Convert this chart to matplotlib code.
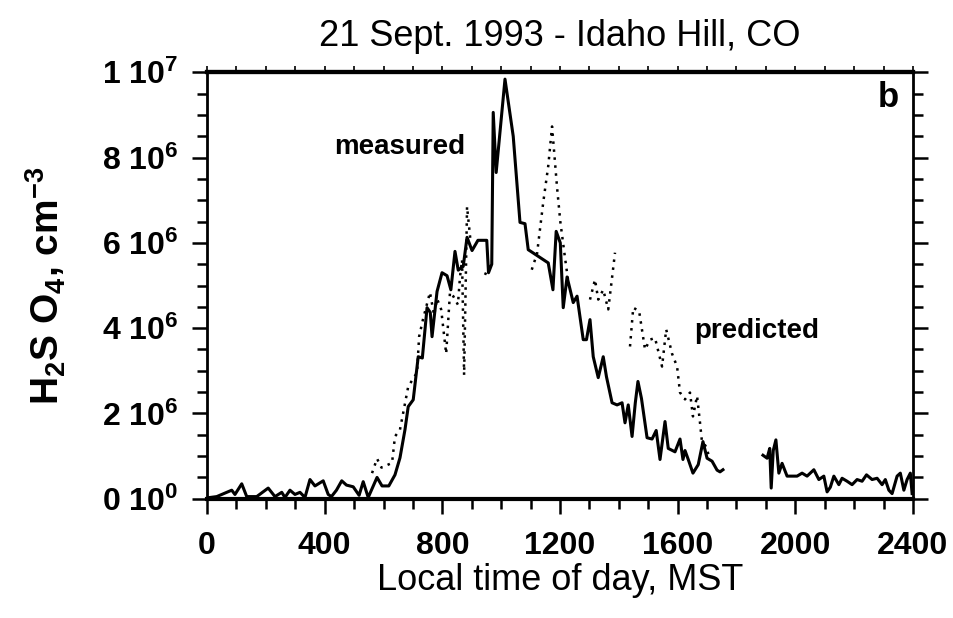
import numpy as np
import matplotlib
matplotlib.use('Agg')
import matplotlib.pyplot as plt
from matplotlib.ticker import MultipleLocator

plt.rcParams['font.family'] = ['Liberation Sans', 'DejaVu Sans']
plt.rcParams['mathtext.default'] = 'regular'

nan = np.nan

# measured H2SO4 (units of 1e6 cm^-3) vs local time (MST)
meas_t = [0, 33, 84, 95, 118, 135, 169, 208, 231, 254, 265, 282, 299, 316, 333,
          350, 367, 395, 412, 423, 440, 458, 474, 497, 517, 531, 548, 578, 595,
          618, 639, 656, 673, 684, 701, 718, 732, 748, 759, 765, 782, 799, 816,
          829, 843, 854, 871, 884, 901, 921, 951, 957, 968, 973, 983, 1013, 1041,
          1064, 1081, 1092, 1160, 1176, 1187, 1201, 1211, 1224, 1245, 1258, 1279,
          1290, 1302, 1313, 1330, 1347, 1358, 1377, 1394, 1411, 1421, 1432, 1445,
          1456, 1465, 1477, 1496, 1513, 1527, 1540, 1557, 1568, 1591, 1608, 1618,
          1625, 1636, 1652, 1670, 1686, 1700, 1717, 1734, 1744, 1754, 1820,
          1890, 1904, 1913, 1918, 1925, 1934, 1944, 1955, 1972, 2006, 2023, 2040,
          2063, 2080, 2097, 2108, 2119, 2131, 2148, 2159, 2176, 2193, 2210, 2227,
          2242, 2261, 2278, 2295, 2306, 2318, 2329, 2346, 2357, 2369, 2380, 2391,
          2397]
meas_v = [0.02, 0.05, 0.2, 0.1, 0.35, 0.05, 0.05, 0.25, 0.05, 0.15, 0.03, 0.2,
          0.1, 0.15, 0.03, 0.45, 0.3, 0.42, 0.1, 0.05, 0.2, 0.42, 0.32, 0.28,
          0.08, 0.4, 0.03, 0.5, 0.3, 0.3, 0.56, 0.96, 1.62, 2.16, 2.32, 3.33, 3.3,
          4.48, 4.37, 3.8, 4.86, 5.3, 5.23, 4.9, 5.8, 5.36, 5.45, 6.13, 5.82,
          6.06, 6.06, 5.3, 5.5, 9.06, 7.65, 9.84, 8.5, 6.48, 6.45, 5.84, 5.53,
          4.9, 6.27, 6.0, 4.48, 5.2, 4.6, 4.75, 3.73, 3.73, 4.2, 3.33, 2.84, 3.33,
          2.86, 2.25, 2.2, 2.25, 1.78, 2.2, 1.46, 2.25, 2.75, 2.35, 1.43, 1.4,
          1.6, 0.92, 1.81, 1.18, 1.1, 1.4, 0.92, 1.13, 0.92, 0.6, 0.8, 1.34, 0.95,
          0.88, 0.67, 0.63, 0.68, nan,
          1.02, 0.95, 1.18, 0.25, 1.13, 1.38, 0.6, 0.83, 0.53, 0.53, 0.6, 0.53,
          0.68, 0.45, 0.53, 0.16, 0.27, 0.53, 0.33, 0.48, 0.41, 0.33, 0.45, 0.41,
          0.56, 0.45, 0.48, 0.33, 0.45, 0.2, 0.12, 0.53, 0.6, 0.2, 0.45, 0.6,
          0.12]

# predicted H2SO4
pred_t = [561, 578, 593, 629, 639, 656, 684, 714, 721, 734, 758, 772, 782, 796,
          813, 826, 837, 853, 860, 867, 874, 884, 895, 920,
          945, 955, 1000,
          1104, 1122, 1143, 1160, 1173, 1190, 1201, 1218, 1228, 1260,
          1302, 1319, 1330, 1347, 1364, 1375, 1387, 1410,
          1438, 1449, 1469, 1489, 1506, 1523, 1547, 1561, 1581, 1598, 1608, 1625,
          1642, 1652, 1666, 1676, 1682, 1700, 1706]
pred_v = [0.6, 0.94, 0.73, 0.84, 1.46, 1.62, 2.63, 2.96, 3.8, 4.2, 4.84, 4.3,
          4.69, 4.44, 3.4, 4.84, 4.75, 4.55, 5.2, 5.6, 2.9, 6.85, 6.1, nan,
          5.25, 5.4, nan,
          5.37, 5.75, 6.95, 7.8, 8.73, 7.3, 6.5, 5.6, 5.1, nan,
          4.67, 5.14, 4.67, 4.9, 4.44, 5.07, 5.77, nan,
          3.57, 4.48, 4.4, 3.5, 3.73, 3.77, 3.1, 3.97, 3.4, 3.1, 2.49, 2.33,
          2.49, 1.93, 2.41, 1.78, 1.38, 1.18, 0.98]

yticks = [0, 2e6, 4e6, 6e6, 8e6, 1e7]
ytick_labels = ['0 10$^0$', '2 10$^6$', '4 10$^6$', '6 10$^6$', '8 10$^6$', '1 10$^7$']
xticks = [0, 400, 800, 1200, 1600, 2000, 2400]

fig = plt.figure(figsize=(9.54, 6.18), dpi=100)
ax = fig.add_axes([0.217, 0.193, 0.740, 0.690])

ax.plot(meas_t, np.array(meas_v) * 1e6, color='black', lw=2.2)
ax.plot(pred_t, np.array(pred_v) * 1e6, color='black', lw=1.8,
        linestyle=(0, (1, 2.2)))

ax.set_xlim(0, 2400)
ax.set_ylim(0, 1e7)
ax.set_xticks(xticks)
ax.set_xticklabels([str(x) for x in xticks], fontweight='bold')
ax.set_yticks(yticks)
ax.set_yticklabels(ytick_labels, fontweight='bold')
ax.xaxis.set_minor_locator(MultipleLocator(100))
ax.yaxis.set_minor_locator(MultipleLocator(5e5))

ax.tick_params(which='both', direction='out', right=True, top=False,
               labelsize=23, width=1.8)
ax.tick_params(axis='x', pad=12)
ax.tick_params(axis='y', pad=10)
ax.tick_params(which='major', length=11)
ax.tick_params(which='minor', length=7)

# short ticks on the top edge
top = ax.secondary_xaxis('top')
top.set_xticks(xticks)
top.xaxis.set_minor_locator(MultipleLocator(100))
top.tick_params(which='both', direction='out', length=4, width=1.2,
                labeltop=False)
top.spines['top'].set_linewidth(3)

for s in ['left', 'right']:
    ax.spines[s].set_linewidth(2)
for s in ['top', 'bottom']:
    ax.spines[s].set_linewidth(3)

ax.set_title('21 Sept. 1993 - Idaho Hill, CO', fontsize=26, pad=19)
ax.set_xlabel('Local time of day, MST', fontsize=26, labelpad=2)
ax.set_ylabel('H$_2$S O$_4$, cm$^{-3}$', fontsize=28, fontweight='bold',
              labelpad=24)

ax.text(656, 8.24e6, 'measured', fontsize=20, fontweight='bold',
        ha='center', va='center')
ax.text(1870, 3.94e6, 'predicted', fontsize=20, fontweight='bold',
        ha='center', va='center')
ax.text(2315, 9.4e6, 'b', fontsize=25, fontweight='bold',
        ha='center', va='center')

fig.savefig('out.png', dpi=100)
